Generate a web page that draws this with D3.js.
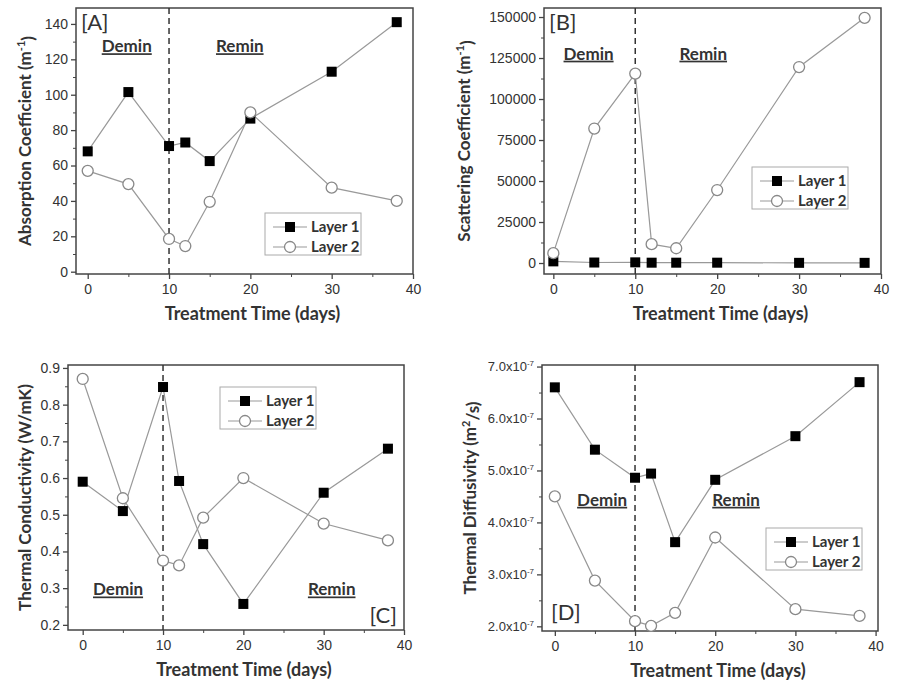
<!DOCTYPE html>
<html>
<head>
<meta charset="utf-8">
<title>Treatment time panels</title>
<script src="https://d3js.org/d3.v7.min.js"></script>
<style>
body { margin: 0; background: #fff; }
svg { font-family: Lato, "Open Sans", sans-serif; }
.tick text { font-size: 14px; fill: #333; }
.tick line, .domain { stroke: #444; }
.frame { fill: none; stroke: #444; stroke-width: 1.5; }
.xtitle { font-size: 18px; font-weight: bold; fill: #333; }
.ytitle { font-size: 17px; font-weight: bold; fill: #333; }
.note { font-size: 17px; font-weight: bold; fill: #333; text-decoration: underline; }
.tag { font-size: 22px; fill: #333; }
.legend text { font-size: 15px; font-weight: bold; fill: #333; }
</style>
</head>
<body>
<svg width="899" height="683"></svg>
<script>

var days = [0, 5, 10, 12, 15, 20, 30, 38];

var absorption1 = [68, 101.5, 71, 73, 62.5, 86.5, 113, 141];
var absorption2 = [57, 49.5, 18.5, 14.5, 39.5, 90, 47.5, 40];

var scattering1 = [1000, 300, 400, 200, 200, 200, 100, 100];
var scattering2 = [6000, 82000, 115500, 11500, 9000, 44500, 119500, 149500];

var conductivity1 = [0.59, 0.51, 0.848, 0.592, 0.42, 0.257, 0.56, 0.68];
var conductivity2 = [0.87, 0.545, 0.375, 0.362, 0.492, 0.6, 0.476, 0.43];

var diffusivity1 = [6.6e-7, 5.4e-7, 4.86e-7, 4.94e-7, 3.62e-7, 4.82e-7, 5.66e-7, 6.7e-7];
var diffusivity2 = [4.5e-7, 2.88e-7, 2.1e-7, 2.01e-7, 2.26e-7, 3.71e-7, 2.33e-7, 2.2e-7];

var seriesNames = ['Layer 1', 'Layer 2'];
var xTicks = [0, 10, 20, 30, 40];
var xTitle = 'Treatment Time (days)';

var panels = [
  { tag: '[A]', box: [76, 8, 413, 274], x: [-1.44, 40], y: [-1.3, 149],
    yTicks: d3.range(0, 141, 20), yMinor: d3.range(10, 141, 20),
    fmt: d => d, title: ['Absorption Coefficient (m', '-1', ')'],
    series: [absorption1, absorption2],
    tagAt: 'tl', legend: [265, 213], titleX: 25,
    demin: [4.8, 124], remin: [18.7, 124] },
  { tag: '[B]', box: [544, 8, 881, 274], x: [-1.14, 40], y: [-6700, 155500],
    yTicks: d3.range(0, 150001, 25000), yMinor: d3.range(12500, 150001, 25000),
    fmt: d => d, title: ['Scattering Coefficient (m', '-1', ')'],
    series: [scattering1, scattering2],
    tagAt: 'tl', legend: [752, 167], titleX: 464,
    demin: [4.3, 124000], remin: [18.3, 124000] },
  { tag: '[C]', box: [68, 365, 404, 630], x: [-1.83, 40], y: [0.186, 0.908],
    yTicks: d3.range(0.2, 0.91, 0.1), yMinor: d3.range(0.25, 0.9, 0.1),
    fmt: d3.format('.1f'), title: ['Thermal Conductivity (W/mK)'],
    series: [conductivity1, conductivity2],
    tagAt: 'br', legend: [220, 387], titleX: 25,
    demin: [4.4, 0.28], remin: [31, 0.28] },
  { tag: '[D]', box: [542, 365, 878, 631], x: [-1.6, 40.3], y: [1.91e-7, 7.03e-7],
    yTicks: d3.range(2, 7.01, 1).map(v => v * 1e-7), yMinor: d3.range(2.5, 7, 1).map(v => v * 1e-7),
    fmt: 'sci', title: ['Thermal Diffusivity (m', '2', '/s)'],
    series: [diffusivity1, diffusivity2],
    tagAt: 'bl', legend: [766, 528], titleX: 470,
    demin: [5.9, 4.32e-7], remin: [22.6, 4.32e-7] }
];

var svg = d3.select('svg');

function drawMarker(g, i, cx, cy) {
  if (i === 0) {
    g.append('rect')
      .attr('x', cx - 5).attr('y', cy - 5)
      .attr('width', 10).attr('height', 10)
      .attr('fill', '#000');
  } else {
    g.append('circle')
      .attr('cx', cx).attr('cy', cy).attr('r', 5.5)
      .attr('fill', '#fff')
      .attr('stroke', '#888')
      .attr('stroke-width', 1.3);
  }
}

function drawPanel(p) {
  var left = p.box[0], top = p.box[1], right = p.box[2], bottom = p.box[3];
  var x = d3.scaleLinear().domain(p.x).range([left, right]);
  var y = d3.scaleLinear().domain(p.y).range([bottom, top]);
  var g = svg.append('g');

  // minor ticks
  g.append('g')
    .attr('transform', `translate(0,${bottom})`)
    .call(d3.axisBottom(x).tickValues(d3.range(5, 40, 10)).tickSize(3).tickFormat(''))
    .call(a => a.select('.domain').remove());
  g.append('g')
    .attr('transform', `translate(${left},0)`)
    .call(d3.axisLeft(y).tickValues(p.yMinor).tickSize(3).tickFormat(''))
    .call(a => a.select('.domain').remove());

  var xa = g.append('g')
    .attr('transform', `translate(0,${bottom})`)
    .call(d3.axisBottom(x).tickValues(xTicks).tickSize(5).tickPadding(5))
    .call(a => a.select('.domain').remove());
  xa.selectAll('.tick line').attr('stroke-width', 1.3);

  var ya = g.append('g')
    .attr('transform', `translate(${left},0)`)
    .call(d3.axisLeft(y).tickValues(p.yTicks).tickSize(5).tickPadding(3)
      .tickFormat(p.fmt === 'sci' ? '' : p.fmt))
    .call(a => a.select('.domain').remove());
  ya.selectAll('.tick line').attr('stroke-width', 1.3);

  if (p.fmt === 'sci') {
    ya.selectAll('.tick text').each(function(d) {
      var t = d3.select(this).style('font-size', '13px');
      t.append('tspan').text((d * 1e7).toFixed(1) + 'x10');
      t.append('tspan').attr('dy', -5).style('font-size', '8px').text('-7');
    });
  }

  g.append('rect')
    .attr('class', 'frame')
    .attr('x', left).attr('y', top)
    .attr('width', right - left).attr('height', bottom - top);

  // divide between demin and remin
  g.append('line')
    .attr('x1', x(10)).attr('x2', x(10))
    .attr('y1', top).attr('y2', bottom)
    .attr('stroke', '#333')
    .attr('stroke-width', 1.5)
    .attr('stroke-dasharray', '6,4');

  var line = d3.line().x((d, i) => x(days[i])).y(d => y(d));

  p.series.forEach(function(vals, k) {
    g.append('path')
      .datum(vals)
      .attr('d', line)
      .attr('fill', 'none')
      .attr('stroke', '#999')
      .attr('stroke-width', 1.2);
  });
  p.series.forEach(function(vals, k) {
    vals.forEach(function(v, i) {
      drawMarker(g, k, x(days[i]), y(v));
    });
  });

  // region notes
  g.append('text').attr('class', 'note')
    .attr('x', x(p.demin[0])).attr('y', y(p.demin[1]))
    .attr('text-anchor', 'middle').text('Demin');
  g.append('text').attr('class', 'note')
    .attr('x', x(p.remin[0])).attr('y', y(p.remin[1]))
    .attr('text-anchor', 'middle').text('Remin');

  var tag = g.append('text').attr('class', 'tag').text(p.tag);
  if (p.tagAt === 'tl') tag.attr('x', left + 5).attr('y', top + 22);
  if (p.tagAt === 'br') tag.attr('x', right - 7).attr('y', bottom - 7).attr('text-anchor', 'end');
  if (p.tagAt === 'bl') tag.attr('x', left + 9).attr('y', bottom - 11);

  // axis titles
  g.append('text').attr('class', 'xtitle')
    .attr('x', (left + right) / 2 + 8).attr('y', bottom + 46)
    .attr('text-anchor', 'middle').text(xTitle);

  var yt = g.append('text').attr('class', 'ytitle')
    .attr('text-anchor', 'middle')
    .attr('transform', `translate(${p.titleX},${(top + bottom) / 2}) rotate(-90)`)
    .attr('dy', '0.35em');
  yt.append('tspan').text(p.title[0]);
  if (p.title.length > 1) {
    yt.append('tspan').attr('dy', '-0.5em').style('font-size', '11px').text(p.title[1]);
    yt.append('tspan').attr('dy', '0.5em').text(p.title[2]);
  }

  // legend
  var lg = g.append('g').attr('class', 'legend')
    .attr('transform', `translate(${p.legend[0]},${p.legend[1]})`);
  lg.append('rect')
    .attr('width', 96).attr('height', 42)
    .attr('fill', '#fff')
    .attr('stroke', '#aaa');
  seriesNames.forEach(function(name, k) {
    var cy = 14 + k * 20;
    lg.append('line')
      .attr('x1', 8).attr('x2', 42)
      .attr('y1', cy).attr('y2', cy)
      .attr('stroke', '#999').attr('stroke-width', 1.2);
    drawMarker(lg, k, 25, cy);
    lg.append('text')
      .attr('x', 46).attr('y', cy).attr('dy', '0.35em')
      .text(name);
  });
}

panels.forEach(drawPanel);

</script>
</body>
</html>
